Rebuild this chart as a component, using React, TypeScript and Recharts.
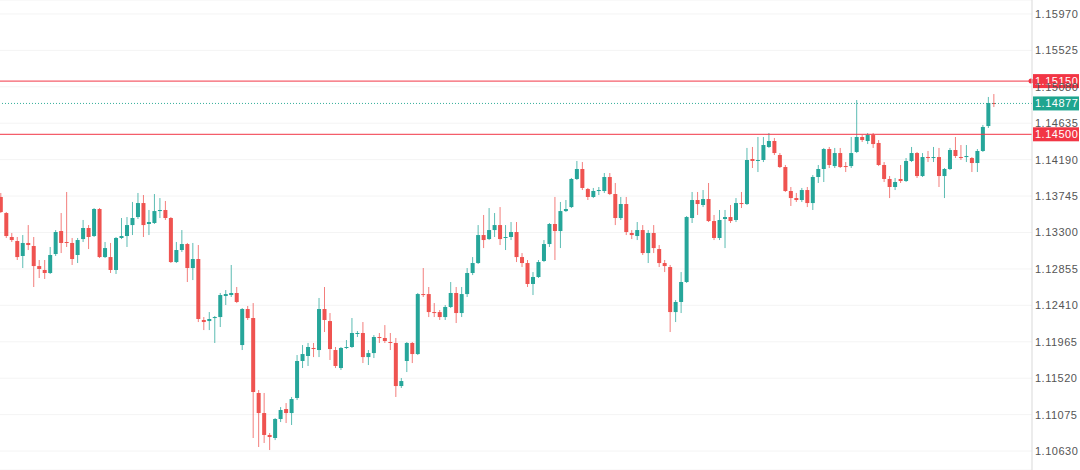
import React from "react"
import { ComposedChart, Bar, XAxis, YAxis, CartesianGrid, ReferenceLine } from "recharts"

// EUR/USD-style candles left to right
const opens = [
  1.13734, 1.13538, 1.13245, 1.13196, 1.13013, 1.13172, 1.13135, 1.1289, 1.12842, 1.12805,
  1.13037, 1.13318, 1.13184, 1.13172, 1.13025, 1.1322, 1.13355, 1.13257, 1.13587, 1.13,
  1.13, 1.12842, 1.13233, 1.13257, 1.13391, 1.13489, 1.1366, 1.13404, 1.13416, 1.13562,
  1.13575, 1.13477, 1.12939, 1.13086, 1.13159, 1.12866, 1.12976, 1.12231, 1.12218, 1.12255,
  1.12267, 1.12524, 1.12536, 1.12561, 1.11925, 1.12365, 1.12255, 1.11339, 1.11094, 1.10826,
  1.10789, 1.11021, 1.11143, 1.11094, 1.11278, 1.1173, 1.11791, 1.11889, 1.11864, 1.12365,
  1.12218, 1.11864, 1.11644, 1.11889, 1.11901, 1.1206, 1.12072, 1.11778, 1.11827, 1.12023,
  1.12011, 1.11962, 1.1195, 1.11424, 1.1173, 1.1195, 1.11815, 1.12548, 1.12548, 1.12328,
  1.12328, 1.12267, 1.1239, 1.12561, 1.12316, 1.12548, 1.12805, 1.12927, 1.13269, 1.1322,
  1.1333, 1.13391, 1.13233, 1.13245, 1.13306, 1.13, 1.12927, 1.12671, 1.12756, 1.12952,
  1.13159, 1.13404, 1.13318, 1.13562, 1.13611, 1.13954, 1.14076, 1.13831, 1.13734, 1.13807,
  1.13807, 1.13978, 1.1377, 1.13477, 1.13648, 1.13294, 1.13257, 1.1333, 1.13049, 1.13294,
  1.13098, 1.12927, 1.12878, 1.12328, 1.12451, 1.12695, 1.13477, 1.13697, 1.13636, 1.13709,
  1.1344, 1.13233, 1.13465, 1.13489, 1.13453, 1.1366, 1.13648, 1.14198, 1.14174, 1.14186,
  1.14345, 1.14418, 1.14247, 1.141, 1.13807, 1.13721, 1.13697, 1.13819, 1.1366, 1.13978,
  1.14076, 1.1432, 1.14112, 1.14271, 1.14112, 1.14112, 1.14284, 1.14467, 1.14418, 1.14491,
  1.14394, 1.14125, 1.13954, 1.13856, 1.13954, 1.13929, 1.14174, 1.14271, 1.1399, 1.14222,
  1.1421, 1.14222, 1.1399, 1.14076, 1.14308, 1.14222, 1.14222, 1.1421, 1.14149, 1.14296,
  1.14601, 1.14882,
]

const highs = [
  1.13783, 1.1355, 1.13294, 1.13245, 1.13269, 1.13391, 1.13245, 1.12964, 1.12964, 1.13123,
  1.1333, 1.13538, 1.13795, 1.13233, 1.13233, 1.13453, 1.13391, 1.13599, 1.13599, 1.13184,
  1.13172, 1.13245, 1.13477, 1.13489, 1.13673, 1.13783, 1.13758, 1.13575, 1.1377, 1.13721,
  1.13685, 1.13489, 1.13184, 1.1333, 1.13172, 1.13172, 1.13147, 1.12267, 1.12328, 1.1228,
  1.12561, 1.12597, 1.12903, 1.12634, 1.12377, 1.12402, 1.12438, 1.11375, 1.11339, 1.1085,
  1.11033, 1.11167, 1.11216, 1.1129, 1.11803, 1.11925, 1.1195, 1.1195, 1.125, 1.12634,
  1.12316, 1.11901, 1.11901, 1.11986, 1.12255, 1.12096, 1.12206, 1.11864, 1.12047, 1.12072,
  1.12169, 1.12072, 1.12011, 1.11522, 1.11962, 1.11962, 1.12561, 1.12866, 1.12634, 1.12438,
  1.12353, 1.12414, 1.12695, 1.12634, 1.12634, 1.12866, 1.13, 1.13391, 1.13514, 1.13599,
  1.13538, 1.13611, 1.13391, 1.13428, 1.13428, 1.13049, 1.12964, 1.12817, 1.12964, 1.13208,
  1.13416, 1.13734, 1.13673, 1.13697, 1.13966, 1.14174, 1.14161, 1.13844, 1.13844, 1.13856,
  1.14027, 1.14027, 1.13905, 1.13734, 1.13734, 1.1333, 1.13428, 1.13391, 1.1333, 1.13391,
  1.13147, 1.12964, 1.12903, 1.12475, 1.12817, 1.13501, 1.13795, 1.13795, 1.13819, 1.13905,
  1.13514, 1.13575, 1.13575, 1.13636, 1.13721, 1.13795, 1.14333, 1.14345, 1.14467, 1.14467,
  1.14516, 1.14455, 1.14271, 1.14125, 1.13856, 1.13783, 1.13844, 1.13856, 1.14002, 1.14125,
  1.14333, 1.14345, 1.14333, 1.14333, 1.14161, 1.14467, 1.14919, 1.14491, 1.14516, 1.14516,
  1.1443, 1.14161, 1.1399, 1.13966, 1.14125, 1.1421, 1.14345, 1.14284, 1.14271, 1.14296,
  1.14345, 1.14333, 1.14088, 1.14333, 1.14467, 1.14369, 1.14369, 1.14222, 1.1432, 1.14614,
  1.14956, 1.14992,
]

const lows = [
  1.13538, 1.13233, 1.13184, 1.12964, 1.12866, 1.13086, 1.12634, 1.12744, 1.12732, 1.12793,
  1.13013, 1.13049, 1.13123, 1.12903, 1.12927, 1.13184, 1.13098, 1.13245, 1.12988, 1.12988,
  1.12805, 1.12793, 1.1322, 1.13123, 1.13269, 1.13465, 1.13245, 1.13269, 1.13404, 1.13477,
  1.13453, 1.12927, 1.12927, 1.13062, 1.12695, 1.12719, 1.12206, 1.12108, 1.12108, 1.1195,
  1.12145, 1.12414, 1.12512, 1.12438, 1.11864, 1.12231, 1.10789, 1.10679, 1.10728, 1.10642,
  1.10764, 1.10984, 1.10972, 1.10948, 1.11253, 1.11644, 1.11669, 1.11778, 1.11778, 1.12084,
  1.11742, 1.11644, 1.1162, 1.11876, 1.11889, 1.12023, 1.11705, 1.11681, 1.11766, 1.1195,
  1.1195, 1.11864, 1.1129, 1.114, 1.11595, 1.11705, 1.11803, 1.12512, 1.12267, 1.12267,
  1.12231, 1.12231, 1.12377, 1.12194, 1.12267, 1.12512, 1.1278, 1.12915, 1.1311, 1.13208,
  1.13245, 1.13147, 1.13086, 1.13208, 1.12939, 1.12878, 1.12634, 1.12536, 1.12744, 1.12939,
  1.13123, 1.12964, 1.1311, 1.1355, 1.13599, 1.13941, 1.13819, 1.13697, 1.13721, 1.13758,
  1.13783, 1.13758, 1.13391, 1.13453, 1.13269, 1.1322, 1.13208, 1.13025, 1.12927, 1.13049,
  1.12878, 1.12817, 1.12084, 1.12206, 1.12316, 1.12683, 1.13416, 1.13514, 1.13611, 1.13428,
  1.13208, 1.13208, 1.1311, 1.13416, 1.13428, 1.13599, 1.13636, 1.14088, 1.14039, 1.14161,
  1.14333, 1.14247, 1.14088, 1.13795, 1.13624, 1.13673, 1.13673, 1.13611, 1.13575, 1.13905,
  1.13917, 1.14088, 1.14088, 1.14088, 1.14039, 1.14088, 1.14271, 1.14406, 1.14381, 1.14333,
  1.14112, 1.13917, 1.13721, 1.13819, 1.13905, 1.13917, 1.14161, 1.13966, 1.13978, 1.14161,
  1.14161, 1.13856, 1.13721, 1.14064, 1.1421, 1.14186, 1.14161, 1.14039, 1.14039, 1.14284,
  1.14577, 1.14833,
]

const closes = [
  1.1355, 1.13257, 1.13208, 1.13, 1.13172, 1.13147, 1.1289, 1.12854, 1.12805, 1.13025,
  1.13306, 1.13172, 1.13172, 1.12976, 1.13208, 1.13355, 1.13245, 1.13587, 1.13, 1.1311,
  1.12842, 1.13233, 1.13257, 1.13391, 1.13477, 1.1366, 1.13391, 1.13428, 1.13562, 1.13575,
  1.13477, 1.12939, 1.13086, 1.13159, 1.12866, 1.12976, 1.12243, 1.12206, 1.12243, 1.12267,
  1.12536, 1.12548, 1.12561, 1.12451, 1.12365, 1.12255, 1.11351, 1.11094, 1.10826, 1.10801,
  1.11021, 1.11131, 1.11094, 1.11265, 1.1173, 1.11815, 1.11901, 1.11876, 1.12365, 1.12231,
  1.11876, 1.11669, 1.11889, 1.11901, 1.12072, 1.12072, 1.11778, 1.11827, 1.12023, 1.12011,
  1.11974, 1.1195, 1.11424, 1.11485, 1.1195, 1.11815, 1.12548, 1.12536, 1.12328, 1.12316,
  1.12267, 1.1239, 1.12561, 1.12316, 1.12548, 1.12805, 1.12927, 1.13269, 1.13208, 1.1333,
  1.13391, 1.1322, 1.13245, 1.13306, 1.13, 1.12927, 1.12671, 1.12756, 1.12939, 1.13159,
  1.13404, 1.13318, 1.13562, 1.13587, 1.13954, 1.14076, 1.13844, 1.13734, 1.13807, 1.13819,
  1.13978, 1.1377, 1.13477, 1.13648, 1.13306, 1.13269, 1.1333, 1.13049, 1.13294, 1.1311,
  1.12927, 1.1289, 1.12328, 1.12451, 1.12695, 1.13489, 1.13697, 1.13648, 1.13709, 1.1344,
  1.13233, 1.13453, 1.13489, 1.1344, 1.1366, 1.13648, 1.14186, 1.14174, 1.14186, 1.14369,
  1.14418, 1.14271, 1.141, 1.13807, 1.13721, 1.13697, 1.13819, 1.1366, 1.13978, 1.14076,
  1.1432, 1.14125, 1.14271, 1.141, 1.141, 1.14271, 1.14467, 1.1443, 1.14491, 1.14381,
  1.14125, 1.13954, 1.13856, 1.13917, 1.13929, 1.14174, 1.14271, 1.1399, 1.14222, 1.1421,
  1.14222, 1.1399, 1.14076, 1.14308, 1.14235, 1.1421, 1.14235, 1.14149, 1.14296, 1.14589,
  1.14882, 1.14877,
]

const priceTicks = [
  1.1063, 1.11075, 1.1152, 1.11965, 1.1241, 1.12855, 1.133, 1.13745, 1.1419, 1.14635,
  1.1508, 1.15525, 1.1597,
]

const resistance = 1.1515
const support = 1.145
const lastPrice = 1.14877

const UP = "#26a69a"
const DOWN = "#ef5350"
const LINE_RED = "#f23645"
const LAST_TEAL = "#1fa58f"
const FONT = "'Liberation Sans', Arial, sans-serif"

const data = opens.map((o, i) => ({
  i,
  open: o,
  high: highs[i],
  low: lows[i],
  close: closes[i],
}))

function Candle(props: any) {
  const { x, y, width, height, payload } = props
  if (!payload) return null
  const { open, close, high, low } = payload
  const color = close >= open ? UP : DOWN
  const h = Math.abs(height)
  const top = height < 0 ? y + height : y
  const ratio = h / (high - low)
  const cx = x + width / 2
  const bodyTop = top + (high - Math.max(open, close)) * ratio
  const bodyH = Math.max(1, Math.abs(open - close) * ratio)
  return (
    <g>
      <line x1={cx} x2={cx} y1={top} y2={top + h} stroke={color} strokeWidth={1} strokeOpacity={0.75} />
      <rect x={x} y={bodyTop} width={width} height={bodyH} fill={color} />
    </g>
  )
}

// coloured price box sitting on the right axis, drawn as a reference-line label
function PriceTag(props: any) {
  const { viewBox, price, color, dot } = props
  if (!viewBox) return null
  const left = viewBox.x + viewBox.width + 1
  const cy = viewBox.y
  return (
    <g>
      {dot && <circle cx={left - 2} cy={cy} r={2.5} fill={color} />}
      <rect x={left} y={cy - 7} width={46} height={14} fill={color} />
      <text
        x={left + 2}
        y={cy + 4}
        fill="#fff"
        fontSize={11}
        fontFamily={FONT}
        letterSpacing={0.5}
      >
        {price.toFixed(5)}
      </text>
    </g>
  )
}

export default function App() {
  return (
    <div style={{ width: 1080, height: 470, background: "#fff" }}>
      <style>{`body{margin:0;background:#fff}`}</style>
      <ComposedChart
        width={1080}
        height={470}
        data={data}
        margin={{ top: 0, right: 0, bottom: 0, left: 0 }}
      >
        <CartesianGrid vertical={false} stroke="#f4f4f4" />
        <XAxis dataKey="i" type="number" domain={[-0.1, 188]} hide allowDataOverflow />
        <YAxis
          orientation="right"
          width={48}
          domain={[1.10398, 1.16141]}
          ticks={priceTicks}
          allowDataOverflow
          interval={0}
          tickFormatter={(v: number) => v.toFixed(5)}
          tick={{ fill: "#555", fontSize: 11, fontFamily: FONT, letterSpacing: 0.5 }}
          tickLine={false}
          tickSize={1}
          tickMargin={2}
          axisLine={{ stroke: "#d9d9d9" }}
        />
        <Bar
          dataKey={(d: any) => [d.low, d.high]}
          barSize={4}
          shape={<Candle />}
          isAnimationActive={false}
        />
        <ReferenceLine
          y={resistance}
          stroke={LINE_RED}
          strokeWidth={1}
          label={<PriceTag price={resistance} color={LINE_RED} dot />}
        />
        <ReferenceLine
          y={support}
          stroke={LINE_RED}
          strokeWidth={1}
          label={<PriceTag price={support} color={LINE_RED} />}
        />
        <ReferenceLine
          y={lastPrice}
          stroke={LAST_TEAL}
          strokeOpacity={0.9}
          strokeDasharray="1 2"
          strokeWidth={1}
          label={<PriceTag price={lastPrice} color={LAST_TEAL} />}
        />
      </ComposedChart>
    </div>
  )
}
